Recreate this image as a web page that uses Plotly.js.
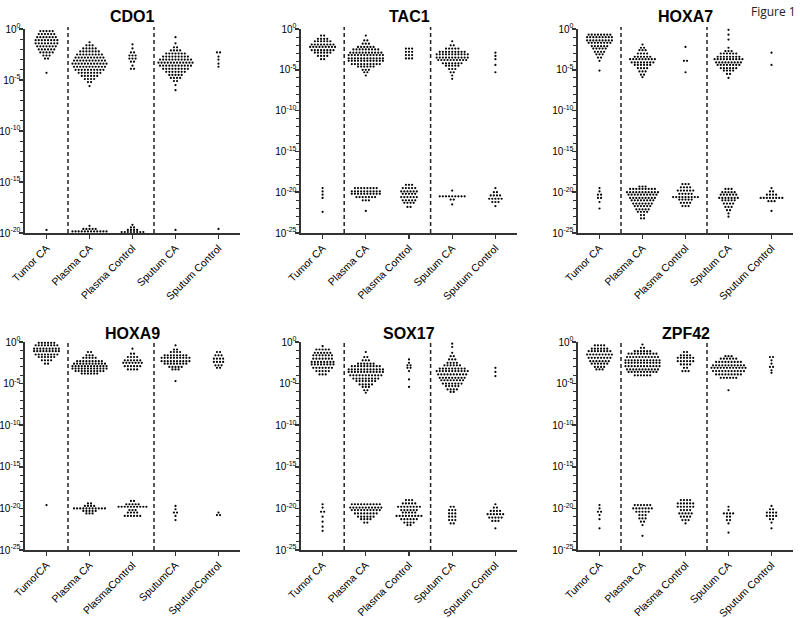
<!DOCTYPE html>
<html>
<head>
<meta charset="utf-8">
<script src="https://cdn.plot.ly/plotly-3.0.1.min.js"></script>
<style>html,body{margin:0;padding:0;background:#fff;}#chart{width:800px;height:618px;}</style>
</head>
<body>
<div id="chart"></div>
<script>
// ---- categories / tick labels ----
const categories = ["Tumor CA", "Plasma CA", "Plasma Control", "Sputum CA", "Sputum Control"];
const categoriesHOXA9 = ["TumorCA", "Plasma CA", "PlasmaControl", "SputumCA", "SputumControl"];
const genes = ["CDO1", "TAC1", "HOXA7", "HOXA9", "SOX17", "ZPF42"];
const yMinExp = [-20, -25, -25, -25, -25, -25];

// ---- data: [log10 value, number of samples at that value] ----
// CDO1
const CDO1_TumorCA = [[0.1,3],[-0.2,5],[-0.5,6],[-0.8,7],[-1.1,8],[-1.4,8],[-1.7,7],[-2.0,6],[-2.3,5],[-2.6,3],[-2.9,2],[-4.3,1],[-19.7,1]];
const CDO1_PlasmaCA = [[-1.3,1],[-1.6,3],[-1.9,5],[-2.2,7],[-2.5,9],[-2.8,10],[-3.1,11],[-3.4,12],[-3.7,11],[-4.0,10],[-4.3,8],[-4.6,6],[-4.9,4],[-5.2,2],[-5.6,1],[-19.3,1],[-19.6,5],[-19.85,12]];
const CDO1_PlasmaControl = [[-1.5,1],[-1.9,1],[-2.3,2],[-2.6,3],[-2.9,3],[-3.2,2],[-3.6,1],[-3.9,2],[-19.2,1],[-19.45,2],[-19.7,4],[-19.9,8]];
const CDO1_SputumCA = [[-0.8,1],[-1.4,1],[-1.8,2],[-2.1,4],[-2.4,7],[-2.7,9],[-3.0,11],[-3.3,12],[-3.6,11],[-3.9,9],[-4.2,7],[-4.5,5],[-4.8,4],[-5.1,2],[-5.5,1],[-6.0,1],[-19.7,1]];
const CDO1_SputumControl = [[-2.3,2],[-2.7,1],[-3.0,1],[-3.4,1],[-3.7,1],[-19.6,1]];
// TAC1
const TAC1_TumorCA = [[-0.8,2],[-1.2,4],[-1.5,6],[-1.9,8],[-2.2,9],[-2.6,8],[-2.9,6],[-3.3,4],[-3.7,2],[-19.5,1],[-19.9,1],[-20.3,1],[-20.7,1],[-22.4,1]];
const TAC1_PlasmaCA = [[-0.8,1],[-1.4,2],[-1.8,3],[-2.2,6],[-2.5,9],[-2.9,11],[-3.2,12],[-3.6,12],[-3.9,12],[-4.3,10],[-4.6,6],[-5.0,3],[-5.3,2],[-5.7,1],[-19.5,8],[-19.9,10],[-20.2,10],[-20.6,7],[-21.0,3],[-22.3,1]];
const TAC1_PlasmaControl = [[-2.4,3],[-2.8,3],[-3.2,3],[-3.6,3],[-19.1,3],[-19.5,5],[-19.9,6],[-20.2,5],[-20.6,6],[-21.0,5],[-21.3,4],[-21.8,2]];
const TAC1_SputumCA = [[-1.5,1],[-2.0,2],[-2.4,5],[-2.8,9],[-3.1,11],[-3.5,11],[-3.8,10],[-4.2,7],[-4.5,5],[-4.9,3],[-5.3,2],[-5.7,1],[-6.1,1],[-19.8,1],[-20.5,9],[-20.9,2],[-21.5,1]];
const TAC1_SputumControl = [[-2.9,1],[-3.3,1],[-3.7,1],[-4.4,1],[-5.3,1],[-19.5,1],[-20.0,2],[-20.4,4],[-20.8,5],[-21.2,3],[-21.7,1]];
// HOXA7
const HOXA7_TumorCA = [[-0.7,8],[-1.0,9],[-1.4,9],[-1.7,8],[-2.1,6],[-2.4,5],[-2.8,4],[-3.1,3],[-3.5,2],[-3.9,1],[-5.1,1],[-19.5,1],[-19.9,1],[-20.3,2],[-20.7,2],[-21.2,1],[-22.0,1]];
const HOXA7_PlasmaCA = [[-1.9,1],[-2.3,2],[-2.6,3],[-3.0,4],[-3.4,6],[-3.7,9],[-4.1,8],[-4.4,6],[-4.8,4],[-5.2,3],[-5.6,2],[-5.9,1],[-19.3,3],[-19.6,9],[-20.0,11],[-20.3,10],[-20.7,9],[-21.0,8],[-21.4,7],[-21.7,6],[-22.1,5],[-22.4,4],[-22.8,2],[-23.2,2]];
const HOXA7_PlasmaControl = [[-2.2,1],[-3.9,2],[-5.3,1],[-19.0,3],[-19.4,4],[-19.8,6],[-20.2,5],[-20.6,9],[-20.9,5],[-21.3,4],[-21.7,3]];
const HOXA7_SputumCA = [[-0.1,1],[-0.7,1],[-1.3,1],[-2.3,1],[-2.7,3],[-3.0,6],[-3.4,8],[-3.7,10],[-4.1,9],[-4.4,8],[-4.8,6],[-5.1,4],[-5.5,2],[-6.0,1],[-19.6,3],[-20.0,5],[-20.3,6],[-20.7,7],[-21.0,5],[-21.4,4],[-21.8,3],[-22.2,2],[-22.6,1],[-23.0,1]];
const HOXA7_SputumControl = [[-2.9,1],[-4.4,1],[-19.5,1],[-19.9,2],[-20.3,4],[-20.7,8],[-21.1,3],[-22.3,1]];
// HOXA9
const HOXA9_TumorCA = [[-0.1,6],[-0.4,8],[-0.8,9],[-1.1,9],[-1.5,8],[-1.8,6],[-2.2,4],[-2.6,2],[-19.6,1]];
const HOXA9_PlasmaCA = [[-1.2,2],[-1.6,3],[-1.9,5],[-2.3,9],[-2.6,11],[-2.9,12],[-3.2,12],[-3.5,10],[-3.8,6],[-19.4,2],[-19.7,4],[-20.0,11],[-20.3,5],[-20.6,3]];
const HOXA9_PlasmaControl = [[-0.8,1],[-1.4,2],[-1.8,4],[-2.2,6],[-2.5,7],[-2.9,6],[-3.3,4],[-19.1,2],[-19.5,5],[-19.8,10],[-20.2,3],[-20.5,4],[-20.9,6]];
const HOXA9_SputumCA = [[-0.4,1],[-0.9,2],[-1.2,4],[-1.6,8],[-1.9,10],[-2.3,10],[-2.6,8],[-3.0,5],[-3.3,3],[-4.7,1],[-19.7,1],[-20.1,1],[-20.5,2],[-20.9,1],[-21.4,1]];
const HOXA9_SputumControl = [[-1.2,2],[-1.6,3],[-2.0,4],[-2.4,4],[-2.8,3],[-3.1,2],[-20.5,1],[-20.8,2]];
// SOX17
const SOX17_TumorCA = [[-0.5,1],[-0.9,5],[-1.3,6],[-1.6,7],[-2.0,7],[-2.4,8],[-2.7,8],[-3.1,7],[-3.5,5],[-3.9,3],[-19.5,1],[-19.9,1],[-20.4,2],[-21.0,1],[-21.6,1],[-22.2,1],[-22.7,1]];
const SOX17_PlasmaCA = [[-1.2,1],[-1.8,2],[-2.2,3],[-2.6,6],[-2.9,10],[-3.3,12],[-3.6,12],[-4.0,11],[-4.4,9],[-4.7,7],[-5.1,5],[-5.4,3],[-5.8,2],[-6.1,1],[-19.5,10],[-19.9,11],[-20.2,10],[-20.6,8],[-21.0,6],[-21.3,4],[-21.7,2]];
const SOX17_PlasmaControl = [[-2.1,1],[-2.5,1],[-2.8,2],[-3.1,2],[-3.5,1],[-4.5,1],[-5.4,1],[-19.0,3],[-19.4,5],[-19.8,8],[-20.2,6],[-20.5,5],[-20.9,9],[-21.3,6],[-21.7,4],[-22.0,2]];
const SOX17_SputumCA = [[-0.2,1],[-0.6,1],[-1.3,1],[-1.7,2],[-2.1,3],[-2.5,4],[-2.8,6],[-3.2,9],[-3.5,11],[-3.9,10],[-4.3,9],[-4.6,8],[-5.0,7],[-5.3,5],[-5.7,4],[-6.0,2],[-19.8,2],[-20.2,3],[-20.6,3],[-21.0,3],[-21.4,3],[-21.8,2]];
const SOX17_SputumControl = [[-3.1,1],[-3.6,1],[-4.1,1],[-19.5,1],[-19.9,2],[-20.3,4],[-20.7,6],[-21.1,5],[-21.5,3],[-22.4,1]];
// ZPF42
const ZPF42_TumorCA = [[-0.4,4],[-0.8,6],[-1.1,8],[-1.5,9],[-1.9,8],[-2.3,7],[-2.6,6],[-3.0,4],[-3.3,3],[-19.6,1],[-20.0,1],[-20.4,2],[-20.8,1],[-21.3,1],[-22.4,1]];
const ZPF42_PlasmaCA = [[-0.3,1],[-0.7,2],[-1.1,6],[-1.4,10],[-1.8,11],[-2.2,12],[-2.5,12],[-2.9,12],[-3.3,11],[-3.6,10],[-4.0,6],[-19.6,6],[-20.0,7],[-20.4,5],[-20.8,3],[-21.2,3],[-21.6,2],[-22.0,1],[-23.3,1]];
const ZPF42_PlasmaControl = [[-1.2,2],[-1.6,4],[-1.9,6],[-2.3,6],[-2.7,4],[-3.1,2],[-3.5,3],[-19.0,4],[-19.4,6],[-19.8,6],[-20.2,4],[-20.6,5],[-21.0,4],[-21.4,3],[-21.8,1]];
const ZPF42_SputumCA = [[-1.7,3],[-2.0,6],[-2.4,9],[-2.8,11],[-3.1,12],[-3.5,11],[-3.9,9],[-4.3,6],[-5.8,1],[-19.8,1],[-20.2,1],[-20.6,4],[-21.0,2],[-21.4,2],[-21.8,1],[-22.9,1]];
const ZPF42_SputumControl = [[-1.8,2],[-2.2,1],[-2.6,1],[-3.0,2],[-3.4,1],[-3.7,1],[-19.7,1],[-20.1,2],[-20.5,4],[-20.9,4],[-21.3,2],[-21.7,1],[-22.4,1]];

const geneData = [
  [CDO1_TumorCA, CDO1_PlasmaCA, CDO1_PlasmaControl, CDO1_SputumCA, CDO1_SputumControl],
  [TAC1_TumorCA, TAC1_PlasmaCA, TAC1_PlasmaControl, TAC1_SputumCA, TAC1_SputumControl],
  [HOXA7_TumorCA, HOXA7_PlasmaCA, HOXA7_PlasmaControl, HOXA7_SputumCA, HOXA7_SputumControl],
  [HOXA9_TumorCA, HOXA9_PlasmaCA, HOXA9_PlasmaControl, HOXA9_SputumCA, HOXA9_SputumControl],
  [SOX17_TumorCA, SOX17_PlasmaCA, SOX17_PlasmaControl, SOX17_SputumCA, SOX17_SputumControl],
  [ZPF42_TumorCA, ZPF42_PlasmaCA, ZPF42_PlasmaControl, ZPF42_SputumCA, ZPF42_SputumControl]
];

// ---- layout geometry ----
const W = 800, H = 618;
const colPx = [[25, 240], [301, 517], [578, 793]];
const rowPx = [[29, 233], [342, 550]];
const dotStep = 0.072; // horizontal spacing between dots in a row (category units)
const FONT = "Liberation Sans, Arial, sans-serif";

const traces = [];
const layout = {
  width: W, height: H,
  margin: {l: 0, r: 0, t: 0, b: 0},
  paper_bgcolor: "#fff", plot_bgcolor: "#fff",
  showlegend: false,
  font: {family: FONT, color: "#000", size: 11},
  shapes: [], annotations: []
};

genes.forEach((gene, i) => {
  const r = Math.floor(i / 3), c = i % 3;
  const sfx = i === 0 ? "" : String(i + 1);
  const xs = [], ys = [];
  geneData[i].forEach((group, g) => {
    group.forEach(([lv, n]) => {
      for (let k = 0; k < n; k++) {
        xs.push(g + (k - (n - 1) / 2) * dotStep);
        ys.push(Math.pow(10, lv));
      }
    });
  });
  traces.push({
    type: "scatter", mode: "markers", x: xs, y: ys,
    xaxis: "x" + sfx, yaxis: "y" + sfx,
    marker: {size: 2.2, color: "#000"},
    cliponaxis: false, hoverinfo: "skip"
  });
  const lo = yMinExp[i];
  const tv = [], tt = [], minor = [];
  for (let e = 0; e >= lo; e -= 5) { tv.push(Math.pow(10, e)); tt.push("10<sup>" + (e === 0 ? "0" : "-" + (-e)) + "</sup>"); }
  for (let e = 0; e >= lo; e -= 1) minor.push(Math.pow(10, e));
  layout["xaxis" + sfx] = {
    domain: [colPx[c][0] / W, colPx[c][1] / W],
    anchor: "y" + sfx,
    range: [-0.5, 4.5],
    tickvals: [0, 1, 2, 3, 4],
    ticktext: gene === "HOXA9" ? categoriesHOXA9 : categories,
    tickangle: -45,
    ticks: "outside", ticklen: 4, tickwidth: 1.2, tickcolor: "#333",
    ticklabelstandoff: -1,
    showline: true, linecolor: "#333", linewidth: 2,
    showgrid: false, zeroline: false,
    tickfont: {size: 10.5, color: "#000", family: FONT}, fixedrange: true
  };
  layout["yaxis" + sfx] = {
    domain: [1 - rowPx[r][1] / H, 1 - rowPx[r][0] / H],
    anchor: "x" + sfx,
    type: "log",
    range: [lo, 0],
    tickvals: tv, ticktext: tt,
    ticks: "outside", ticklen: 4, tickwidth: 1.5, tickcolor: "#333",
    ticklabelstandoff: -4,
    minor: {tickvals: minor, ticks: "outside", ticklen: 2.5, tickwidth: 1, tickcolor: "#333"},
    showline: true, linecolor: "#333", linewidth: 2.5,
    showgrid: false, zeroline: false,
    tickfont: {size: 10, color: "#000", family: FONT}, fixedrange: true
  };
  [0.5, 2.5].forEach(xv => layout.shapes.push({
    type: "line", xref: "x" + sfx, yref: "y" + sfx + " domain",
    x0: xv, x1: xv, y0: 0, y1: 1.01,
    line: {color: "#222", width: 1.5, dash: "4px,3px"}
  }));
  layout.annotations.push({
    text: "<b>" + gene + "</b>", xref: "x" + sfx + " domain", yref: "paper",
    x: 0.5, y: 1 - (r === 0 ? 17 : 333) / H, xanchor: "center", yanchor: "middle",
    showarrow: false, font: {size: 16, color: "#000", family: FONT}
  });
});

layout.annotations.push({
  text: "Figure 1", xref: "paper", yref: "paper", x: 798 / W, y: 1 - 1 / H,
  xanchor: "right", yanchor: "top", showarrow: false,
  font: {size: 12, color: "#222", family: "Open Sans, sans-serif"}
});

Plotly.newPlot("chart", traces, layout, {staticPlot: true, displayModeBar: false});
</script>
</body>
</html>
